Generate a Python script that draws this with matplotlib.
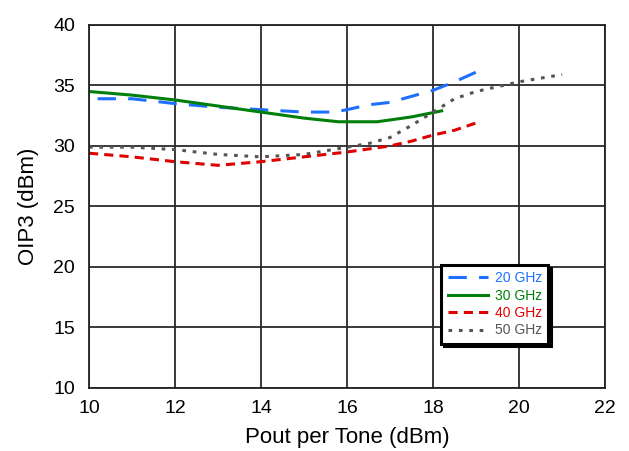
import matplotlib
matplotlib.use('Agg')
import matplotlib.pyplot as plt
import numpy as np

plt.rcParams['font.family'] = ['Liberation Sans', 'DejaVu Sans']

# 20 GHz
x20 = [10.2, 11, 12, 13, 14, 15, 15.7, 16, 16.5, 17, 17.5, 18, 18.5, 19]
y20 = [33.9, 33.9, 33.5, 33.2, 33.0, 32.8, 32.8, 33.0, 33.4, 33.6, 34.1, 34.6, 35.3, 36.1]
# 30 GHz
x30 = [10, 11, 12, 13, 14, 15, 15.8, 16.7, 17.5, 18.2]
y30 = [34.5, 34.2, 33.8, 33.3, 32.8, 32.3, 32.0, 32.0, 32.4, 32.9]
# 40 GHz
x40 = [10, 11, 12, 13, 14, 15, 16, 17, 17.5, 18, 18.5, 19]
y40 = [29.4, 29.1, 28.7, 28.4, 28.7, 29.1, 29.5, 30.0, 30.4, 30.9, 31.3, 31.9]
# 50 GHz
x50 = [10, 11, 12, 13, 14, 15, 16, 16.5, 17, 17.5, 18, 18.5, 19, 19.5, 20, 20.5, 21]
y50 = [29.9, 29.9, 29.7, 29.3, 29.1, 29.3, 29.9, 30.2, 30.7, 31.7, 32.8, 33.9, 34.5, 34.9, 35.3, 35.6, 35.9]

fig = plt.figure(figsize=(6.29, 4.51), dpi=100)
ax = fig.add_axes([0.1415, 0.1397, 0.8205, 0.805])

ax.plot(x20, y20, color='#1f6fff', linewidth=2.2, dashes=(6, 4), label='20 GHz')
ax.plot(x30, y30, color='#00800a', linewidth=2.2, label='30 GHz')
ax.plot(x40, y40, color='#e00000', linewidth=2.2, dashes=(3, 2), label='40 GHz')
ax.plot(x50, y50, color='#555555', linewidth=2.2, dashes=(1.2, 2.2), label='50 GHz')

ax.set_xlim(10, 22)
ax.set_ylim(10, 40)
ax.set_xticks(np.arange(10, 23, 2))
ax.set_yticks(np.arange(10, 41, 5))
ax.tick_params(labelsize=14, length=0)
ax.tick_params(axis='x', pad=9)
ax.tick_params(axis='y', pad=10)
ax.grid(True, color='#2a2a2a', linewidth=1.3)
ax.set_axisbelow(True)
for s in ax.spines.values():
    s.set_linewidth(1.3)
    s.set_color('#222222')

ax.set_xlabel('Pout per Tone (dBm)', fontsize=16, labelpad=7)
ax.set_ylabel('OIP3 (dBm)', fontsize=16, labelpad=10)

leg = ax.legend(loc='lower left', bbox_to_anchor=(0.683, 0.122), fontsize=10,
                labelcolor='linecolor', fancybox=False, framealpha=1,
                shadow={'facecolor': 'black', 'edgecolor': 'black', 'alpha': 1},
                handlelength=2.9, handletextpad=0.5, borderpad=0.45,
                labelspacing=0.25, borderaxespad=0)
leg.get_frame().set_edgecolor('black')
leg.get_frame().set_linewidth(2.2)

fig.savefig('out.png', dpi=100)
